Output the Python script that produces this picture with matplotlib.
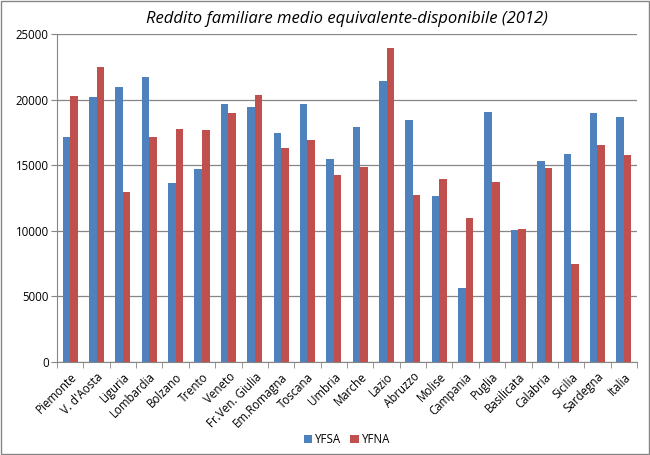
import matplotlib
matplotlib.use("Agg")
import matplotlib.pyplot as plt
import numpy as np
from matplotlib.patches import Rectangle

regions = [
    "Piemonte", "V. d'Aosta", "Liguria", "Lombardia", "Bolzano", "Trento",
    "Veneto", "Fr.Ven. Giulia", "Em.Romagna", "Toscana", "Umbria", "Marche",
    "Lazio", "Abruzzo", "Molise", "Campania", "Puglia", "Basilicata",
    "Calabria", "Sicilia", "Sardegna", "Italia",
]
yfsa = [17160, 20170, 20930, 21690, 13670, 14720, 19680, 19450, 17470, 19680, 15480,
        17920, 21440, 18460, 12650, 5630, 19070, 10060, 15330, 15860, 18990, 18690]
yfna = [20240, 22460, 12990, 17160, 17770, 17700, 18990, 20320, 16320, 16930, 14260,
        14870, 23960, 12730, 13950, 11000, 13720, 10130, 14790, 7460, 16550, 15790]
yticks = [0, 5000, 10000, 15000, 20000, 25000]

plt.rcParams["font.family"] = ["Open Sans", "DejaVu Sans"]

fig = plt.figure(figsize=(6.5, 4.55), dpi=100)
ax = fig.add_axes([57 / 650, 1 - 362 / 455, 580 / 650, 328 / 455])

x = np.arange(len(regions))
w = 1 / 3.5
ax.bar(x - w / 2, yfsa, width=w, color="#4F81BD", label="YFSA", zorder=3)
ax.bar(x + w / 2, yfna, width=w, color="#C0504D", label="YFNA", zorder=3)

ax.set_xlim(-0.5, len(regions) - 0.5)
ax.set_ylim(0, 25000)
ax.set_yticks(yticks)
ax.set_yticklabels([str(v) for v in yticks], fontsize=8.3)
ax.yaxis.grid(True, color="#868686", linewidth=0.9, zorder=0)

ax.set_xticks(x)
ax.set_xticklabels(regions, rotation=45, ha="right", rotation_mode="anchor", fontsize=8.3)
ax.tick_params(axis="x", length=0, pad=6)
ax.set_xticks(np.arange(len(regions) + 1) - 0.5, minor=True)
ax.tick_params(axis="x", which="minor", length=4, color="#868686", direction="out")
ax.tick_params(axis="y", length=4, color="#868686", direction="out", pad=2)

for side in ["top", "right"]:
    ax.spines[side].set_visible(False)
for side in ["left", "bottom"]:
    ax.spines[side].set_color("#868686")

ax.set_title("Reddito familiare medio equivalente-disponibile (2012)",
             fontsize=12, style="italic", pad=8)

ax.legend(loc="upper center", bbox_to_anchor=(0.5, -0.185), ncol=2, frameon=False,
          fontsize=8.3, handlelength=0.7, handleheight=0.7, columnspacing=0.8,
          handletextpad=0.3)

fig.patches.append(Rectangle((0.002, 0.002), 0.996, 0.996, transform=fig.transFigure,
                             fill=False, edgecolor="#868686", linewidth=1))

fig.savefig("out.png", dpi=100)
